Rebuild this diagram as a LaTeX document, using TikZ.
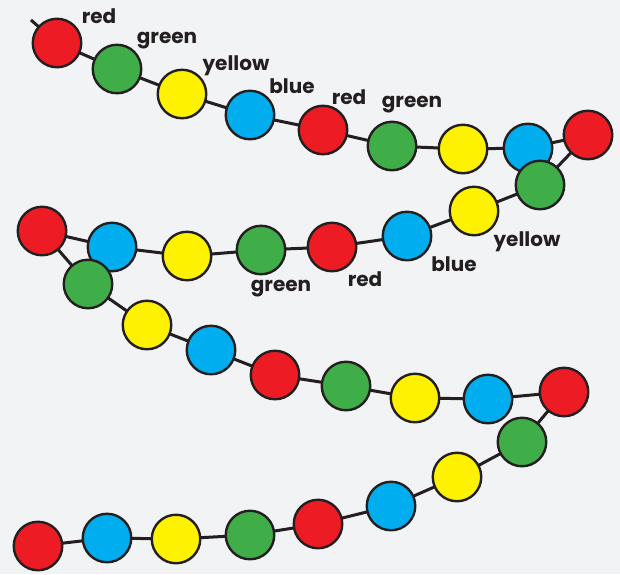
\documentclass[tikz,border=0pt]{standalone}
\usepackage{fontspec}
\setmainfont{Poppins}
\usetikzlibrary{backgrounds}
\definecolor{bg}{HTML}{F2F3F5}
\definecolor{ink}{HTML}{231F20}
\definecolor{cR}{HTML}{ED1C24}
\definecolor{cG}{HTML}{3FAE49}
\definecolor{cY}{HTML}{FFF200}
\definecolor{cB}{HTML}{00AEEF}
\tikzset{
  bead/.style={circle,draw=ink,line width=2.4pt,minimum size=48.5pt,inner sep=0pt},
  R/.style={bead,fill=cR}, G/.style={bead,fill=cG}, Y/.style={bead,fill=cY}, B/.style={bead,fill=cB},
  string/.style={draw=ink,line width=3pt},
  lbl/.style={text=ink,font=\fontsize{20}{20}\selectfont\bfseries,inner sep=0pt}
}
\begin{document}
\begin{tikzpicture}[x=1pt,y=-1pt]
\useasboundingbox (0,0) rectangle (620,574);
\coordinate (s) at (31,20);
% row 1
\node[R] (b1) at (57,43) {};
\node[G] (b2) at (117,69) {};
\node[Y] (b3) at (182,94) {};
\node[B] (b4) at (250,115) {};
\node[R] (b5) at (323,130) {};
\node[G] (b6) at (392,146) {};
\node[Y] (b7) at (463,149) {};
\node[B] (b8) at (528,148) {};
\node[R] (b9) at (588,135) {};
% row 2
\node[G] (b10) at (540,185) {};
\node[Y] (b11) at (474,211) {};
\node[B] (b12) at (407,236) {};
\node[R] (b13) at (332,247) {};
\node[G] (b14) at (261,250) {};
\node[Y] (b15) at (187,256) {};
\node[B] (b16) at (112,247) {};
\node[R] (b17) at (42,231) {};
% row 3
\node[G] (b18) at (88,284) {};
\node[Y] (b19) at (147,325) {};
\node[B] (b20) at (211,350) {};
\node[R] (b21) at (275,375) {};
\node[G] (b22) at (346,386) {};
\node[Y] (b23) at (415,398) {};
\node[B] (b24) at (488,399) {};
\node[R] (b25) at (564,392) {};
% row 4
\node[G] (b26) at (522,442) {};
\node[Y] (b27) at (457,477) {};
\node[B] (b28) at (391,506) {};
\node[R] (b29) at (318,524) {};
\node[G] (b30) at (250,535) {};
\node[Y] (b31) at (176,539) {};
\node[B] (b32) at (107,538) {};
\node[R] (b33) at (38,546) {};
\begin{scope}[on background layer]
\fill[bg] (0,0) rectangle (620,574);
\draw[string] (s) -- (b1.center)
  \foreach \i [evaluate=\i as \j using int(\i+1)] in {1,...,32} { -- (b\j.center) };
\end{scope}
% labels
\node[lbl] (l1) at (99,16) {red};
\node[lbl] (l2) at (167,41) {green};
\node[lbl] (l3) at (236,66) {yellow};
\node[lbl] (l4) at (292,86) {blue};
\node[lbl] (l5) at (349,97) {red};
\node[lbl] (l6) at (412,105) {green};
\node[lbl] (l7) at (527,242) {yellow};
\node[lbl] (l8) at (454,264) {blue};
\node[lbl] (l9) at (365,279) {red};
\node[lbl] (l10) at (281,289) {green};
\end{tikzpicture}
\end{document}
